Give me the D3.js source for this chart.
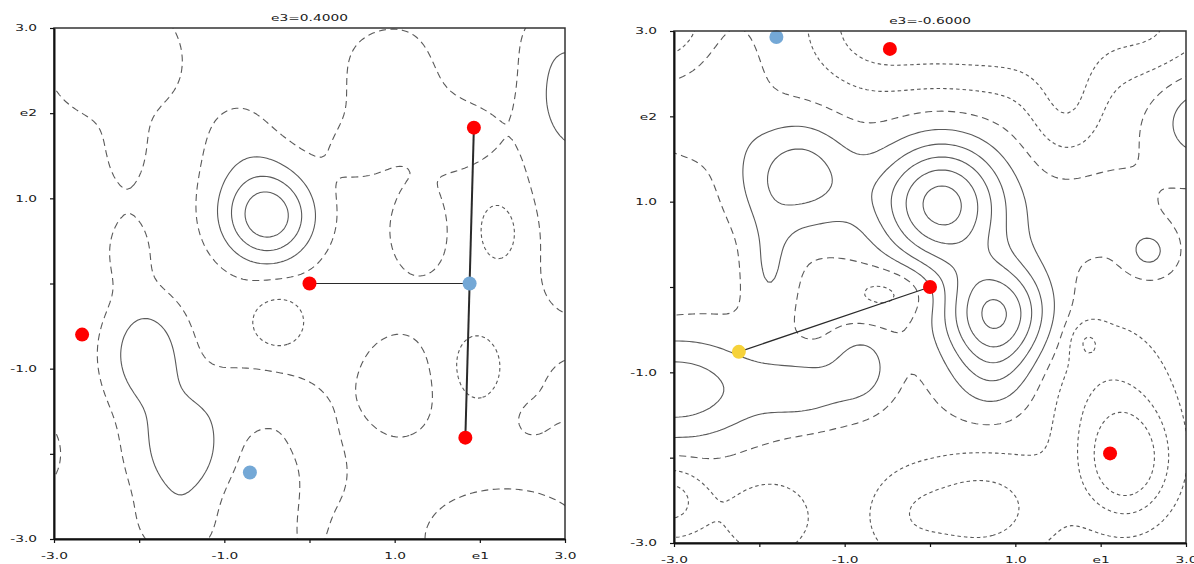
<!DOCTYPE html>
<html>
<head>
<meta charset="utf-8">
<script src="https://cdn.jsdelivr.net/npm/d3@7"></script>
<style>
  body { margin: 0; background: #fff; }
  svg { display: block; }
  .contour { fill: none; stroke: #5a5a5a; stroke-width: 1.1; }
  .tick text, .title { font-family: "DejaVu Sans", sans-serif; font-size: 8.7px; fill: #1a1a1a; }
</style>
</head>
<body>
<div id="chart"></div>
<script>
// titles and tick labels
const titles = ["e3=0.4000", "e3=-0.6000"]
const tickValues = [-3, -2, -1, 0, 1, 2, 3]
const xTickLabels = ["-3.0", "", "-1.0", "", "1.0", "e1", "3.0"]
const yTickLabels = ["-3.0", "", "-1.0", "", "1.0", "e2", "3.0"]

// contour levels: solid above 0, long dash at 0, short dash below 0
const levels = [-3, -2, -1, 0, 1, 2, 3, 4, 5]

// each field is a base plus gaussian bumps: [e1, e2, height, spread e1, spread e2]
const leftBase = -0.5
const leftBumps = [
  [-0.49, 0.78, 4.1, 0.39, 0.39],
  [-0.75, 1.55, 0.8, 0.40, 0.50],
  [-1.92, -0.82, 2.2, 0.33, 0.45],
  [-1.49, -1.93, 2.2, 0.40, 0.48],
  [-2.12, 0.40, 0.8, 0.22, 0.35],
  [-2.30, 2.65, 1.2, 0.60, 0.55],
  [-2.15, 1.50, 0.7, 0.20, 0.35],
  [-1.55, -2.85, 0.8, 0.35, 0.30],
  [3.25, 2.15, 2.3, 0.45, 0.45],
  [2.95, 1.00, 0.9, 0.45, 0.50],
  [3.10, 0.10, 0.8, 0.35, 0.45],
  [2.85, 2.85, 0.7, 0.35, 0.35],
  [1.00, 2.30, 1.1, 0.55, 0.55],
  [1.80, 1.75, 0.9, 0.30, 0.30],
  [1.90, 2.70, -0.6, 0.30, 0.40],
  [0.55, 1.55, 0.6, 0.25, 0.25],
  [1.30, 0.60, 0.9, 0.32, 0.45],
  [1.05, -1.20, 1.0, 0.40, 0.50],
  [2.30, -3.00, 1.0, 0.80, 0.50],
  [3.10, -1.25, 0.9, 0.30, 0.30],
  [2.60, -1.60, 0.6, 0.20, 0.20],
  [-0.55, -1.30, 0.9, 0.45, 0.30],
  [0.00, -1.75, 0.7, 0.22, 0.30],
  [0.25, -2.25, 0.6, 0.20, 0.30],
  [-0.02, -2.80, 0.8, 0.22, 0.45],
  [-0.55, -2.65, -0.45, 0.35, 0.35],
  [-3.25, -2.00, 0.9, 0.30, 0.40],
  [-0.37, -0.45, -1.1, 0.25, 0.27],
  [-0.05, 2.25, -0.6, 0.30, 0.35],
  [2.27, 0.65, -1.0, 0.28, 0.38],
  [1.94, -0.99, -1.0, 0.26, 0.34]
]

const rightBase = -0.3
const rightBumps = [
  [0.14, 0.97, 5.74, 0.53, 0.53],
  [0.77, -0.33, 5.45, 0.44, 0.45],
  [0.75, -1.15, 1.2, 0.38, 0.35],
  [-1.50, 1.32, 2.65, 0.42, 0.46],
  [-0.85, 1.10, 0.3, 0.35, 0.30],
  [-2.35, 2.45, 0.7, 0.30, 0.55],
  [-2.90, 2.00, 0.9, 0.40, 0.35],
  [-2.05, 1.20, 0.6, 0.35, 0.45],
  [-1.88, 0.20, 1.3, 0.20, 0.45],
  [-3.00, -1.20, 3.0, 0.75, 0.45],
  [-1.45, -1.20, 1.6, 0.40, 0.25],
  [-0.80, -0.92, 1.7, 0.25, 0.30],
  [-0.45, -0.05, -1.3, 0.40, 0.22],
  [3.20, 1.95, 2.0, 0.40, 0.40],
  [1.90, 0.90, 0.8, 0.50, 0.40],
  [2.57, 0.41, 1.5, 0.20, 0.20],
  [-0.70, 3.10, -2.0, 0.50, 0.53],
  [0.30, 3.10, -2.0, 0.60, 0.53],
  [1.40, 3.05, -2.0, 0.60, 0.53],
  [1.60, 2.10, -1.4, 0.30, 0.45],
  [2.60, 3.10, -1.6, 0.50, 0.45],
  [-3.15, 3.15, -1.8, 0.35, 0.35],
  [-3.40, 0.60, -0.9, 0.55, 0.55],
  [2.30, -2.05, -3.6, 0.38, 0.48],
  [2.00, -1.10, -1.3, 0.60, 0.60],
  [1.83, -0.63, -1.1, 0.14, 0.16],
  [0.60, -2.60, -2.2, 0.60, 0.45],
  [-0.30, -2.70, -0.9, 0.35, 0.40],
  [-1.90, -2.70, -1.2, 0.45, 0.40],
  [-3.05, -2.50, -2.2, 0.28, 0.28]
]

// marked points [e1, e2, kind]
const leftPoints = [
  [1.93, 1.83, "max"], [0.0, 0.0, "max"], [1.88, 0.0, "saddle"],
  [-2.67, -0.60, "max"], [1.83, -1.81, "max"], [-0.70, -2.22, "saddle"]
]
const rightPoints = [
  [-1.80, 2.93, "saddle"], [-0.47, 2.79, "max"], [0.0, 0.0, "max"],
  [-2.24, -0.76, "start"], [2.11, -1.95, "max"]
]
// segments [e1, e2, e1, e2, weight]
const leftLinks = [
  [1.93, 1.83, 1.88, 0.0, 2], [1.88, 0.0, 1.83, -1.81, 2], [0.0, 0.0, 1.88, 0.0, 1]
]
const rightLinks = [
  [-2.24, -0.76, 0.0, 0.0, 1.2]
]

const pointColor = { max: "#ff0000", saddle: "#74a8d6", start: "#f6d23a" }

function field(bumps, base, x, y) {
  let v = base
  for (const [bx, by, a, sx, sy] of bumps) {
    v += a * Math.exp(-((x - bx) ** 2) / (2 * sx * sx) - ((y - by) ** 2) / (2 * sy * sy))
  }
  return v
}

const svg = d3.select("#chart").append("svg")
    .attr("width", 1194)
    .attr("height", 564)

function drawPanel(box, title, bumps, base, points, links, id) {
  const x = d3.scaleLinear().domain([-3, 3]).range([box.left, box.left + box.size])
  const y = d3.scaleLinear().domain([-3, 3]).range([box.top + box.size, box.top])

  // sample the field a bit past the frame so edges do not close the rings
  const lo = -3.3, step = 0.04
  const n = Math.round(6.6 / step) + 1
  const values = new Array(n * n)
  for (let j = 0; j < n; j++) {
    for (let i = 0; i < n; i++) {
      values[j * n + i] = field(bumps, base, lo + i * step, -lo - j * step)
    }
  }
  const rings = d3.contours().size([n, n]).thresholds(levels)(values)
  const path = d3.geoPath(d3.geoTransform({
    point: function (cx, cy) {
      this.stream.point(x(lo + (cx - 0.5) * step), y(-lo - (cy - 0.5) * step))
    }
  }))

  svg.append("clipPath").attr("id", id)
    .append("rect")
      .attr("x", box.left).attr("y", box.top)
      .attr("width", box.size).attr("height", box.size)

  const g = svg.append("g")
  g.append("g").attr("clip-path", `url(#${id})`)
    .selectAll("path")
    .data(rings)
    .join("path")
      .attr("class", "contour")
      .attr("d", path)
      .attr("stroke-dasharray", d => d.value < 0 ? "3.5,3" : d.value === 0 ? "7,4.5" : null)

  g.selectAll(".link")
    .data(links)
    .join("line")
      .attr("x1", d => x(d[0])).attr("y1", d => y(d[1]))
      .attr("x2", d => x(d[2])).attr("y2", d => y(d[3]))
      .attr("stroke", "#2a2a2a")
      .attr("stroke-width", d => d[4])

  g.selectAll("circle")
    .data(points)
    .join("circle")
      .attr("cx", d => x(d[0]))
      .attr("cy", d => y(d[1]))
      .attr("r", 7)
      .attr("fill", d => pointColor[d[2]])

  // frame
  g.append("rect")
    .attr("x", box.left).attr("y", box.top)
    .attr("width", box.size).attr("height", box.size)
    .attr("fill", "none").attr("stroke", "#333").attr("stroke-width", 1.5)

  const xAxis = g.append("g")
    .attr("transform", `translate(0,${box.top + box.size})`)
    .call(d3.axisBottom(x).tickValues(tickValues).tickSize(4).tickSizeOuter(0)
      .tickFormat((d, i) => xTickLabels[i]))
  const yAxis = g.append("g")
    .attr("transform", `translate(${box.left},0)`)
    .call(d3.axisLeft(y).tickValues(tickValues).tickSize(4).tickSizeOuter(0)
      .tickFormat((d, i) => yTickLabels[i]))

  for (const ax of [xAxis, yAxis]) {
    ax.select(".domain").attr("stroke", "#111").attr("stroke-width", 2)
    ax.selectAll(".tick line").attr("stroke", "#111").attr("stroke-width", 1.2)
  }
  // the picture's lettering is wide, so stretch it sideways
  xAxis.selectAll(".tick text").attr("y", 14).attr("transform", "scale(1.58,1)")
  yAxis.selectAll(".tick text").attr("x", -17 / 1.58).attr("transform", "scale(1.58,1)")

  svg.append("text")
    .attr("class", "title")
    .attr("text-anchor", "middle")
    .attr("transform", `translate(${box.left + box.size / 2},${box.top - 7}) scale(1.58,1)`)
    .text(title)
}

drawPanel({ left: 54, top: 28, size: 511 }, titles[0], leftBumps, leftBase, leftPoints, leftLinks, "clipL")
drawPanel({ left: 674, top: 31, size: 512 }, titles[1], rightBumps, rightBase, rightPoints, rightLinks, "clipR")
</script>
</body>
</html>
